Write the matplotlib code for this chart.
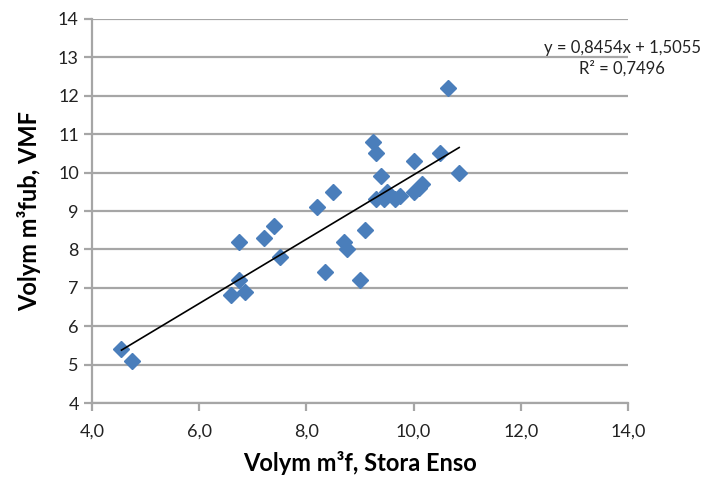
import numpy as np
import matplotlib
matplotlib.use("Agg")
import matplotlib.pyplot as plt

# Stora Enso volume (m3f) vs VMF volume (m3fub)
stora_enso = [4.55, 4.75, 6.6, 6.85, 6.75, 6.75, 7.2, 7.4, 7.5, 8.2, 8.5,
              8.35, 8.7, 8.75, 9.0, 9.1, 9.25, 9.3, 9.4, 9.3, 9.45, 9.5,
              9.65, 9.75, 10.0, 10.1, 10.15, 10.0, 10.5, 10.65, 10.85]
vmf = [5.4, 5.1, 6.8, 6.9, 7.2, 8.2, 8.3, 8.6, 7.8, 9.1, 9.5,
       7.4, 8.2, 8.0, 7.2, 8.5, 10.8, 10.5, 9.9, 9.3, 9.3, 9.5,
       9.3, 9.4, 9.5, 9.6, 9.7, 10.3, 10.5, 12.2, 10.0]

x_ticks = [4, 6, 8, 10, 12, 14]
x_tick_labels = ["4,0", "6,0", "8,0", "10,0", "12,0", "14,0"]
y_ticks = list(range(4, 15))

trend_text = "y = 0,8454x + 1,5055\nR² = 0,7496"

plt.rcParams["font.family"] = ["Lato", "DejaVu Sans"]

W, H = 709, 479
fig = plt.figure(figsize=(W / 100, H / 100), dpi=100)
ax = fig.add_axes([92 / W, 1 - 403 / H, (628 - 92) / W, (403 - 19) / H])

grid_col = "#a6a6a6"
ax.set_xlim(4, 14)
ax.set_ylim(4, 14)
ax.set_yticks(y_ticks)
ax.set_xticks(x_ticks)
ax.set_xticklabels(x_tick_labels)
ax.yaxis.grid(True, color=grid_col, linewidth=1.6)
ax.set_axisbelow(True)

for side in ["top", "right"]:
    ax.spines[side].set_visible(False)
for side in ["left", "bottom"]:
    ax.spines[side].set_color(grid_col)
    ax.spines[side].set_linewidth(1.6)
ax.tick_params(axis="both", colors=grid_col, width=1.6, length=6,
               labelsize=13, labelcolor="#222222")
ax.tick_params(axis="x", pad=9)

ax.plot(stora_enso, vmf, linestyle="none", marker="D", markersize=8,
        color="#4a7ebb", zorder=3)

# linear trendline from the data
k, m = np.polyfit(stora_enso, vmf, 1)
xs = np.array([min(stora_enso), max(stora_enso)])
ax.plot(xs, k * xs + m, color="black", linewidth=1.2, zorder=4)

fig.text(622 / W, 1 - 58 / H, trend_text, ha="center", va="center",
         fontsize=12, color="#222222", linespacing=1.3)

ax.set_xlabel("Volym m³f, Stora Enso", fontsize=17, fontweight="bold",
              labelpad=8)
ax.set_ylabel("Volym m³fub, VMF", fontsize=17, fontweight="bold",
              labelpad=12)

fig.savefig("out.png", dpi=100)
